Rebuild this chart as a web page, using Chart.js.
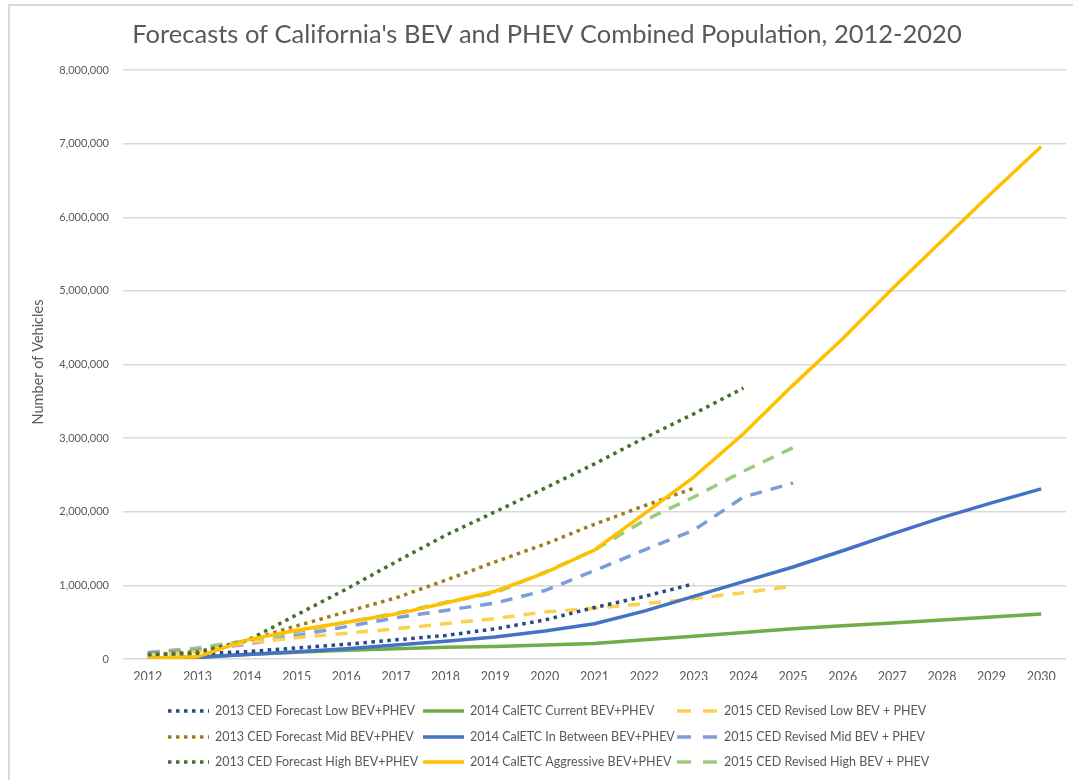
<!DOCTYPE html>
<html>
<head>
<meta charset="utf-8">
<script src="https://cdn.jsdelivr.net/npm/chart.js@4.4.1/dist/chart.umd.min.js"></script>
<style>
  html, body { margin: 0; padding: 0; background: #ffffff; }
  #wrap { position: relative; width: 1073px; height: 780px; }
</style>
</head>
<body>
<div id="wrap"><canvas id="c" width="1073" height="780"></canvas></div>
<script>
// ---- Data ----
const years = ["2012","2013","2014","2015","2016","2017","2018","2019","2020","2021",
               "2022","2023","2024","2025","2026","2027","2028","2029","2030"];

const yTickValues = [0, 1000000, 2000000, 3000000, 4000000, 5000000, 6000000, 7000000, 8000000];

const seriesNames = [
  "2013 CED Forecast Low BEV+PHEV",
  "2014 CalETC Current BEV+PHEV",
  "2015 CED Revised Low BEV + PHEV",
  "2013 CED Forecast Mid BEV+PHEV",
  "2014 CalETC In Between BEV+PHEV",
  "2015 CED Revised Mid BEV + PHEV",
  "2013 CED Forecast High BEV+PHEV",
  "2014 CalETC Aggressive BEV+PHEV",
  "2015 CED Revised High BEV + PHEV"
];

const cedLow2013 = [60000, 70000, 100000, 150000, 200000, 260000, 320000, 410000, 530000, 700000,
                    850000, 1020000, null, null, null, null, null, null, null];
const caletcCurrent2014 = [10000, 30000, 60000, 90000, 120000, 140000, 160000, 170000, 190000, 210000,
                           260000, 310000, 360000, 410000, 450000, 490000, 530000, 570000, 610000];
const cedRevLow2015 = [50000, 100000, 220000, 290000, 350000, 410000, 480000, 550000, 640000, 690000,
                       750000, 820000, 900000, 990000, null, null, null, null, null];
const cedMid2013 = [60000, 100000, 250000, 450000, 640000, 830000, 1070000, 1320000, 1560000, 1830000,
                    2080000, 2320000, null, null, null, null, null, null, null];
const caletcBetween2014 = [0, 20000, 60000, 100000, 140000, 190000, 240000, 300000, 380000, 480000,
                           650000, 850000, 1050000, 1250000, 1470000, 1700000, 1920000, 2120000, 2310000];
const cedRevMid2015 = [80000, 120000, 200000, 320000, 440000, 560000, 660000, 760000, 930000, 1200000,
                       1480000, 1750000, 2200000, 2390000, null, null, null, null, null];
const cedHigh2013 = [50000, 80000, 250000, 600000, 950000, 1320000, 1680000, 2000000, 2320000, 2650000,
                     3000000, 3330000, 3680000, null, null, null, null, null, null];
const caletcAggressive2014 = [10000, 30000, 260000, 390000, 500000, 610000, 760000, 920000, 1170000, 1480000,
                              1970000, 2470000, 3060000, 3720000, 4350000, 5030000, 5680000, 6330000, 6960000];
const cedRevHigh2015 = [90000, 150000, 250000, 370000, 500000, 620000, 770000, 900000, 1180000, 1480000,
                        1880000, 2200000, 2550000, 2870000, null, null, null, null, null];

// ---- Styles ----
const DOT = [3.5, 4.5];
const DASH = [12, 9];
const FONT = "Lato, 'Open Sans', sans-serif";
const TEXT = "#595959";

function ds(label, data, color, kind, order) {
  return {
    label: label,
    data: data,
    borderColor: color,
    backgroundColor: color,
    borderWidth: 3.5,
    borderDash: kind === 'dot' ? DOT : (kind === 'dash' ? DASH : []),
    borderCapStyle: 'butt',
    pointRadius: 0,
    pointHoverRadius: 0,
    tension: 0,
    fill: false,
    spanGaps: false,
    order: order,
    _kind: kind
  };
}

const datasets = [
  ds(seriesNames[0], cedLow2013, "#2B4886", 'dot', 3),
  ds(seriesNames[1], caletcCurrent2014, "#70AD47", 'solid', 5),
  ds(seriesNames[2], cedRevLow2015, "#FFD050", 'dash', 6),
  ds(seriesNames[3], cedMid2013, "#A07D1C", 'dot', 2),
  ds(seriesNames[4], caletcBetween2014, "#4472C4", 'solid', 4),
  ds(seriesNames[5], cedRevMid2015, "#7C9CDA", 'dash', 7),
  ds(seriesNames[6], cedHigh2013, "#46702F", 'dot', 1),
  ds(seriesNames[7], caletcAggressive2014, "#FFC000", 'solid', 0),
  ds(seriesNames[8], cedRevHigh2015, "#9CCB7D", 'dash', 8)
];

// ---- Decorations plugin: frame, title, axis title, legend ----
const deco = {
  id: 'deco',
  beforeDraw(chart) {
    const ctx = chart.ctx;
    ctx.save();
    ctx.fillStyle = '#ffffff';
    ctx.fillRect(0, 0, chart.width, chart.height);
    ctx.strokeStyle = '#d9d9d9';
    ctx.lineWidth = 2;
    ctx.strokeRect(9, 5, chart.width + 20, chart.height + 20);
    ctx.restore();
  },
  afterDraw(chart) {
    const ctx = chart.ctx;
    ctx.save();
    // Title
    ctx.fillStyle = TEXT;
    ctx.font = "25.5px " + FONT;
    ctx.textAlign = 'center';
    ctx.textBaseline = 'middle';
    ctx.fillText("Forecasts of California's BEV and PHEV Combined Population, 2012-2020", 547, 35);
    // Y axis title
    ctx.save();
    ctx.translate(38, 362);
    ctx.rotate(-Math.PI / 2);
    ctx.font = "14.5px " + FONT;
    ctx.fillText("Number of Vehicles", 0, 0);
    ctx.restore();
    // Legend (3 x 3 grid)
    const colX = [168, 423, 677];
    const rowY = [711, 737, 762];
    ctx.font = "12.5px " + FONT;
    ctx.textAlign = 'left';
    ctx.textBaseline = 'middle';
    chart.data.datasets.forEach((d, i) => {
      const col = i % 3, row = Math.floor(i / 3);
      const x = colX[col], y = rowY[row];
      ctx.save();
      ctx.strokeStyle = d.borderColor;
      ctx.lineWidth = 3.5;
      ctx.lineCap = 'butt';
      if (d._kind === 'dot') ctx.setLineDash(DOT);
      else if (d._kind === 'dash') ctx.setLineDash([14, 12]);
      else ctx.setLineDash([]);
      ctx.beginPath();
      ctx.moveTo(x, y);
      ctx.lineTo(x + 41, y);
      ctx.stroke();
      ctx.restore();
      ctx.fillStyle = TEXT;
      ctx.fillText(d.label, x + 47, y);
    });
    ctx.restore();
  }
};

new Chart(document.getElementById('c'), {
  type: 'line',
  data: { labels: years, datasets: datasets },
  options: {
    responsive: false,
    animation: false,
    devicePixelRatio: 1,
    layout: { padding: { top: 70, left: 10, right: 7, bottom: 100 } },
    plugins: {
      legend: { display: false },
      title: { display: false },
      tooltip: { enabled: false }
    },
    scales: {
      x: {
        type: 'category',
        offset: true,
        grid: { display: false, drawTicks: false },
        border: { display: false },
        ticks: {
          color: TEXT,
          font: { family: FONT, size: 12.5 },
          maxRotation: 0,
          minRotation: 0,
          autoSkip: false,
          padding: 10
        },
        afterFit(scale) { scale.height = 21; }
      },
      y: {
        min: 0,
        max: 8000000,
        afterBuildTicks(scale) { scale.ticks = yTickValues.map(v => ({ value: v })); },
        grid: { color: '#d9d9d9', lineWidth: 1.5, drawTicks: false },
        border: { display: false },
        ticks: {
          color: TEXT,
          font: { family: FONT, size: 11 },
          padding: 14,
          callback: (v) => Number(v).toLocaleString('en-US')
        },
        afterFit(scale) { scale.width = 113; }
      }
    }
  },
  plugins: [deco]
});
</script>
</body>
</html>
